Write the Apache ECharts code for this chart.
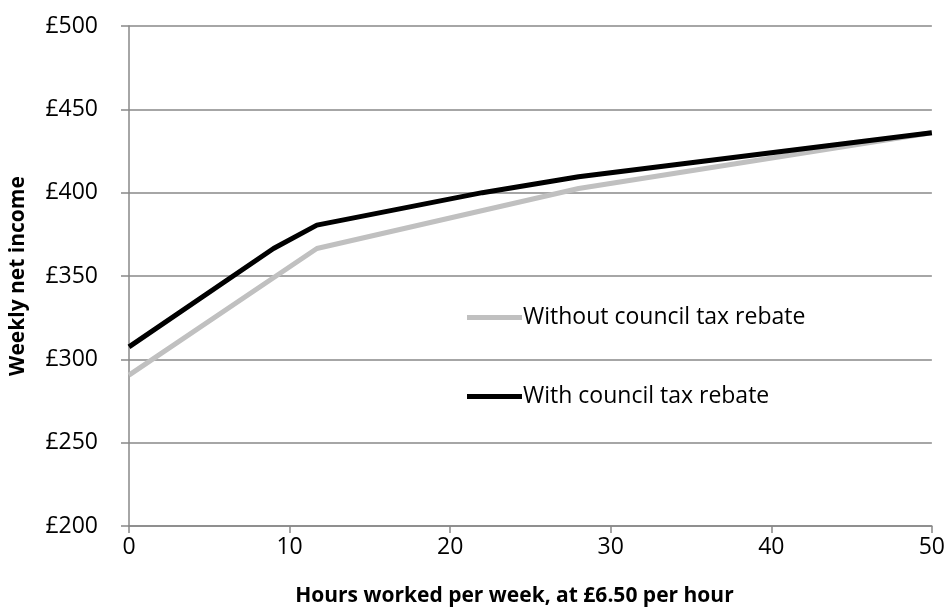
<!DOCTYPE html>
<html>
<head>
<meta charset="utf-8">
<script src="https://cdn.jsdelivr.net/npm/echarts@6/dist/echarts.min.js"></script>
<style>
  html, body { margin: 0; padding: 0; background: #fff; }
  #chart { width: 948px; height: 613px; }
</style>
</head>
<body>
<div id="chart"></div>
<script>
// hours worked per week (x) and weekly net income (y)
const withoutHours = [0, 11.7, 28, 50];
const withoutIncome = [290.5, 366.5, 402.5, 436];
const withHours = [0, 9, 11.7, 22, 28, 50];
const withIncome = [307.5, 366.5, 380.5, 400, 409.5, 436];

const seriesNames = ['Without council tax rebate', 'With council tax rebate'];
const xTicks = [0, 10, 20, 30, 40, 50];
const yTicks = [200, 250, 300, 350, 400, 450, 500];

function pairs(xs, ys) {
    return xs.map((x, i) => [x, ys[i]]);
}

const chart = echarts.init(document.getElementById('chart'));
const font = '"Open Sans", sans-serif';

chart.setOption({
    animation: false,
    textStyle: { fontFamily: font },
    grid: { left: 129, right: 14, top: 26, bottom: 87 },
    legend: {
        orient: 'vertical',
        left: 462,
        top: 301,
        itemGap: 56,
        itemWidth: 55,
        itemHeight: 5,
        icon: 'rect',
        data: seriesNames,
        textStyle: { fontFamily: font, fontSize: 23, color: '#000', padding: [0, 0, 0, -4] }
    },
    xAxis: {
        type: 'value',
        min: xTicks[0],
        max: xTicks[xTicks.length - 1],
        interval: 10,
        name: 'Hours worked per week, at £6.50 per hour',
        nameLocation: 'middle',
        nameGap: 60,
        nameTextStyle: { fontFamily: font, fontSize: 21, fontWeight: 'bold', color: '#000', padding: [0, 32, 0, 0] },
        axisLine: { show: true, lineStyle: { color: '#888', width: 1.5 } },
        axisTick: { show: true, length: 7, lineStyle: { color: '#888', width: 1.5 } },
        axisLabel: { fontSize: 23, color: '#000', margin: 10 },
        splitLine: { show: false }
    },
    yAxis: {
        type: 'value',
        min: yTicks[0],
        max: yTicks[yTicks.length - 1],
        interval: 50,
        name: 'Weekly net income',
        nameLocation: 'middle',
        nameGap: 100,
        nameTextStyle: { fontFamily: font, fontSize: 21, fontWeight: 'bold', color: '#000' },
        axisLine: { show: true, lineStyle: { color: '#888', width: 1.5 } },
        axisTick: { show: true, length: 8, lineStyle: { color: '#888', width: 1.5 } },
        axisLabel: { fontSize: 23, color: '#000', margin: 31, formatter: v => '£' + v },
        splitLine: { show: true, lineStyle: { color: '#888', width: 1.5 } }
    },
    series: [
        {
            name: seriesNames[0],
            type: 'line',
            data: pairs(withoutHours, withoutIncome),
            showSymbol: false,
            lineStyle: { color: '#c0c0c0', width: 5 },
            itemStyle: { color: '#c0c0c0' }
        },
        {
            name: seriesNames[1],
            type: 'line',
            data: pairs(withHours, withIncome),
            showSymbol: false,
            lineStyle: { color: '#000', width: 5 },
            itemStyle: { color: '#000' }
        }
    ]
});
</script>
</body>
</html>
